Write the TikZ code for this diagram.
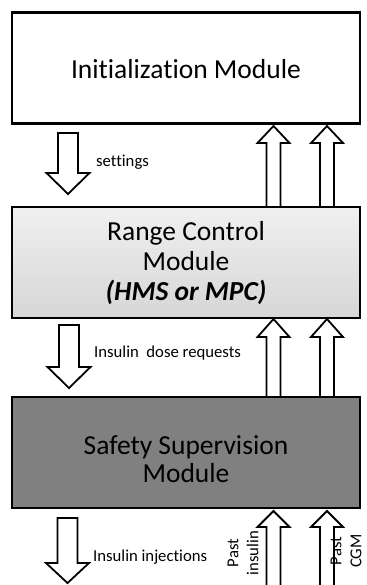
\documentclass[tikz,border=0pt]{standalone}
\usepackage{fontspec}
\setmainfont[Ligatures=NoCommon]{Carlito}
\begin{document}
\begin{tikzpicture}[x=1pt,y=-1pt,
  modbox/.style={draw=black, line width=2.2pt, minimum width=348pt, minimum height=111pt, inner sep=0pt},
  bigtext/.style={align=center, inner sep=0pt, font=\fontsize{27.5}{30}\selectfont},
  barrow/.style={draw=black, line width=1.8pt, fill=white, line join=miter},
  small/.style={font=\fontsize{16.7}{20}\selectfont, inner sep=0pt}]
\useasboundingbox (0,0) rectangle (366,585);
\clip (0,0) rectangle (366,585);
\newcommand{\darr}[4]{%
  \draw[barrow] ({#1-10},#2) -- ({#1+10},#2) -- ({#1+10},#3) -- ({#1+21.5},#3) -- (#1,#4) -- ({#1-21.5},#3) -- ({#1-10},#3) -- cycle;}
\newcommand{\uarr}[4]{%
  \draw[barrow] ({#1-7},#4) -- ({#1-7},#3) -- ({#1-16},#3) -- (#1,#2) -- ({#1+16},#3) -- ({#1+7},#3) -- ({#1+7},#4) -- cycle;}
% boxes
\node[modbox, fill=white] (init) at (186,68) {};
\node[bigtext] (tinit) at (186,69) {Initialization Module};
\node[modbox, top color=gray!12, bottom color=gray!32] (range) at (186,262.5) {};
\node[bigtext] (trange) at (186,263) {Range Control\\Module\\\textbf{\textit{(HMS or MPC)}}};
\node[modbox, fill=black!50] (safe) at (186,452.5) {};
\node[bigtext, font=\fontsize{27.5}{28}\selectfont] (tsafe) at (186,459) {Safety Supervision\\Module};
% down arrows
\darr{68}{133}{173}{194}
\darr{69}{325}{367}{388}
\darr{67.5}{518}{563}{583}
% up arrows
\uarr{273.5}{126}{143}{207}
\uarr{327}{126}{143}{207}
\uarr{273.5}{319}{337}{397}
\uarr{327}{319}{337}{397}
\uarr{273.5}{511}{527}{590}
\uarr{327}{511}{527}{590}
% labels
\node[small, anchor=west] (lset) at (96,162) {settings};
\node[small, anchor=west] (ldose) at (94,353) {Insulin\ \ dose requests};
\node[small, anchor=west] (linj) at (93,557) {Insulin injections};
\node[small, rotate=90, align=center] (lpi) at (243,553) {Past\\insulin};
\node[small, rotate=90, align=center] (lpc) at (346,551) {Past\\CGM};
\end{tikzpicture}
\end{document}
